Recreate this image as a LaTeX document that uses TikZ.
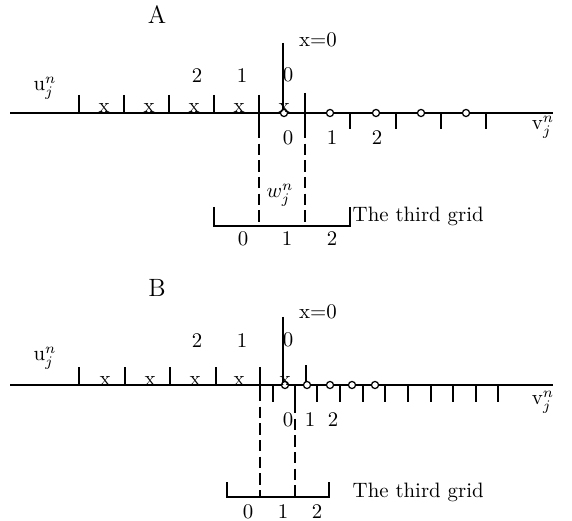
\documentclass[tikz,border=0pt]{standalone}
\begin{document}
\begin{tikzpicture}[x=0.48pt, y=-0.48pt, line width=0.7pt, font=\normalsize,
  lbl/.style={inner sep=0pt},
  xmark/.style={anchor=base, inner sep=0pt},
  omark/.style={circle, draw, line width=0.6pt, fill=white, inner sep=0pt, minimum size=3.4pt},
  guide/.style={dash pattern=on 5.5pt off 2.5pt}]
  \useasboundingbox (0,0) rectangle (572,521);
  % Panel A
  \node[lbl, font=\large] (titA) at (157,15) {A};
  \draw (10,113) -- (553,113);
  \draw (283,43) -- (283,113);
  \node[lbl] (zeroA) at (318,40) {x=0};
  \node[lbl] (uA) at (45,88) {u$_j^n$};
  \node[lbl] (vA) at (543,127) {v$_j^n$};
  \foreach \x in {79,124,169,214} \draw (\x,95) -- (\x,113);
  \foreach \x in {350,396,441,486} \draw (\x,113) -- (\x,129);
  \draw (259,95) -- (259,127);
  \draw (305,93) -- (305,127);
  \foreach \x in {330,376,421,466} \node[omark] at (\x,113) {};
  \node[omark] (oA) at (284,113) {};
  \foreach \x in {104,149,194,239,284} \node[xmark] at (\x,113) {x};
  \node[lbl] (a2) at (197,76) {2};
  \node[lbl] (a1) at (242,76) {1};
  \node[lbl] (a0) at (288,75) {0};
  \node[lbl] (b0) at (288,138) {0};
  \node[lbl] (b1) at (332,138) {1};
  \node[lbl] (b2) at (377,138) {2};
  % third grid A
  \draw[guide] (259,127) -- (259,226);
  \draw[guide] (305,127) -- (305,226);
  \draw (214,207) -- (214,226) -- (350,226) -- (350,207);
  \node[lbl] (wA) at (280,195) {$w_j^n$};
  \node[lbl] (c0) at (243,239) {0};
  \node[lbl] (c1) at (287,239) {1};
  \node[lbl] (c2) at (332,239) {2};
  \node[lbl, anchor=west] (gridA) at (352,216) {The third grid};
  % Panel B
  \node[lbl, font=\large] (titB) at (157,288) {B};
  \draw (10,385) -- (553,385);
  \draw (283,317) -- (283,385);
  \node[lbl] (zeroB) at (318,312) {x=0};
  \node[lbl] (uB) at (45,358) {u$_j^n$};
  \node[lbl] (vB) at (543,402) {v$_j^n$};
  \foreach \x in {79,125,170,216} \draw (\x,367) -- (\x,385);
  \draw (260,367) -- (260,390);
  \draw (306,365) -- (306,385);
  \foreach \x in {273,317,340,363,385,408,431,453,476,498} \draw (\x,385) -- (\x,402);
  \draw (295,385) -- (295,402);
  \foreach \x in {307,330,352,375} \node[omark] at (\x,385) {};
  \node[omark] (oB) at (285,385) {};
  \foreach \x in {105,150,195,239,285} \node[xmark] at (\x,385) {x};
  \node[lbl] (d2) at (197,341) {2};
  \node[lbl] (d1) at (242,341) {1};
  \node[lbl] (d0) at (288,340) {0};
  \node[lbl] (e0) at (288,420) {0};
  \node[lbl] (e1) at (310,420) {1};
  \node[lbl] (e2) at (333,420) {2};
  % third grid B
  \draw[guide] (260,390) -- (260,497);
  \draw[guide] (295,402) -- (295,497);
  \draw (227,482) -- (227,497) -- (329,497) -- (329,482);
  \node[lbl] (f0) at (248,512) {0};
  \node[lbl] (f1) at (283,512) {1};
  \node[lbl] (f2) at (317,512) {2};
  \node[lbl, anchor=west] (gridB) at (352,492) {The third grid};
\end{tikzpicture}
\end{document}
